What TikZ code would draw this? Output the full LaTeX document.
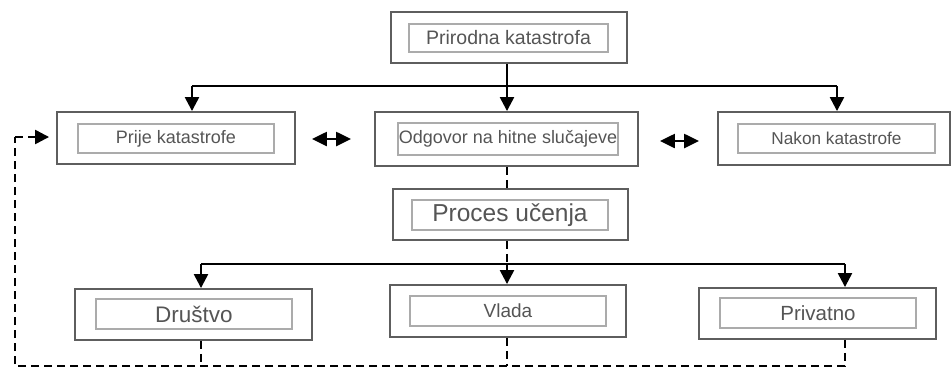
\documentclass[tikz,border=0pt]{standalone}
\usepackage{fontspec}
\setmainfont{Liberation Sans}
\usetikzlibrary{arrows.meta}
\definecolor{boxgray}{HTML}{5E5E5E}
\definecolor{innergray}{HTML}{ABABAB}
\definecolor{txtgray}{HTML}{555555}
\tikzset{
  outerbox/.style={draw=boxgray, line width=1.9pt, minimum width=#1, inner sep=0pt},
  innerbox/.style={draw=innergray, line width=1.3pt, text=txtgray, inner sep=0pt},
  conn/.style={line width=2.4pt, black},
  arr/.style={conn, -{Triangle[width=14pt,length=14pt]}},
  darr/.style={conn, {Triangle[width=14pt,length=15pt]}-{Triangle[width=14pt,length=15pt]}},
  dconn/.style={line width=2.4pt, black, dash pattern=on 8pt off 5pt},
  darrow/.style={dconn, -{Triangle[width=14pt,length=14pt]}},
}
\begin{document}
\begin{tikzpicture}[x=1pt,y=-1pt]
\useasboundingbox (0,0) rectangle (951,368);
\fill[white] (0,0) rectangle (951,368);
% outer boxes
\node[outerbox=236pt, minimum height=51pt] (top) at (509,37.5) {};
\node[outerbox=238pt, minimum height=52pt] (prije) at (176,138) {};
\node[outerbox=263pt, minimum height=54pt] (odg) at (506.5,139) {};
\node[outerbox=232pt, minimum height=53pt] (nakon) at (834,138.5) {};
\node[outerbox=235pt, minimum height=51pt] (proces) at (510.5,214.5) {};
\node[outerbox=237pt, minimum height=51pt] (drustvo) at (193.5,314.5) {};
\node[outerbox=236pt, minimum height=52pt] (vlada) at (508,311) {};
\node[outerbox=237pt, minimum height=51pt] (privatno) at (817.5,313.5) {};
% inner boxes with text
\node[innerbox, minimum width=199pt, minimum height=28pt, font=\fontsize{19.5}{21}\selectfont] (topi) at (508.5,38) {Prirodna katastrofa};
\node[innerbox, minimum width=196pt, minimum height=29pt, font=\fontsize{18}{20}\selectfont] (prijei) at (176,138.5) {Prije katastrofe};
\node[innerbox, minimum width=220pt, minimum height=32pt, font=\fontsize{18}{20}\selectfont] (odgi) at (508,139) {Odgovor na hitne slučajeve};
\node[innerbox, minimum width=197pt, minimum height=29pt, font=\fontsize{17.2}{20}\selectfont] (nakoni) at (836.5,138.5) {Nakon katastrofe};
\node[innerbox, minimum width=196pt, minimum height=30pt, font=\fontsize{24.5}{26}\selectfont] (procesi) at (510,215) {Proces učenja};
\node[innerbox, minimum width=196pt, minimum height=30pt, font=\fontsize{22.5}{24}\selectfont] (drustvoi) at (194,314) {Društvo};
\node[innerbox, minimum width=196pt, minimum height=30pt, font=\fontsize{19}{20}\selectfont] (vladai) at (508,311) {Vlada};
\node[innerbox, minimum width=196pt, minimum height=30pt, font=\fontsize{20.5}{22}\selectfont] (privatnoi) at (818,313) {Privatno};
% junction coordinates
\coordinate (ja) at (192,86);
\coordinate (jb) at (507,86);
\coordinate (jc) at (837,86);
\coordinate (ka) at (201,264);
\coordinate (kb) at (507,264);
\coordinate (kc) at (845,264);
\coordinate (la) at (201,366);
\coordinate (lb) at (507,366);
\coordinate (lc) at (845,366);
\coordinate (ld) at (15,366);
\coordinate (le) at (15,137);
% top distribution
\draw[conn] (top.south -| jb) -- (jb);
\draw[conn] (ja) -- (jc);
\draw[arr] (ja) -- (ja |- prije.north);
\draw[arr] (jb) -- (jb |- odg.north);
\draw[arr] (jc) -- (jc |- nakon.north);
% double arrows
\draw[darr, shorten <=16pt, shorten >=23pt] ([yshift=-1pt]prije.east) -- ([yshift=-1pt]prije.east -| odg.west);
\draw[darr, shorten <=21pt, shorten >=18pt] ([yshift=-2pt]odg.east) -- ([yshift=-2pt]odg.east -| nakon.west);
% learning process
\draw[dconn] (odg.south -| jb) -- (jb |- proces.north);
\draw[dconn] (proces.south -| kb) -- (kb);
\draw[conn] (ka) -- (kc);
\draw[arr] (ka) -- (ka |- drustvo.north);
\draw[arr] (kb) -- (kb |- vlada.north);
\draw[arr] (kc) -- (kc |- privatno.north);
% feedback loop
\draw[dconn] (drustvo.south -| la) -- (la);
\draw[dconn] (vlada.south -| lb) -- (lb);
\draw[dconn] (privatno.south -| lc) -- (lc) -- (ld) -- (le);
\draw[darrow, shorten >=7pt] (le) -- (le -| prije.west);
\end{tikzpicture}
\end{document}
